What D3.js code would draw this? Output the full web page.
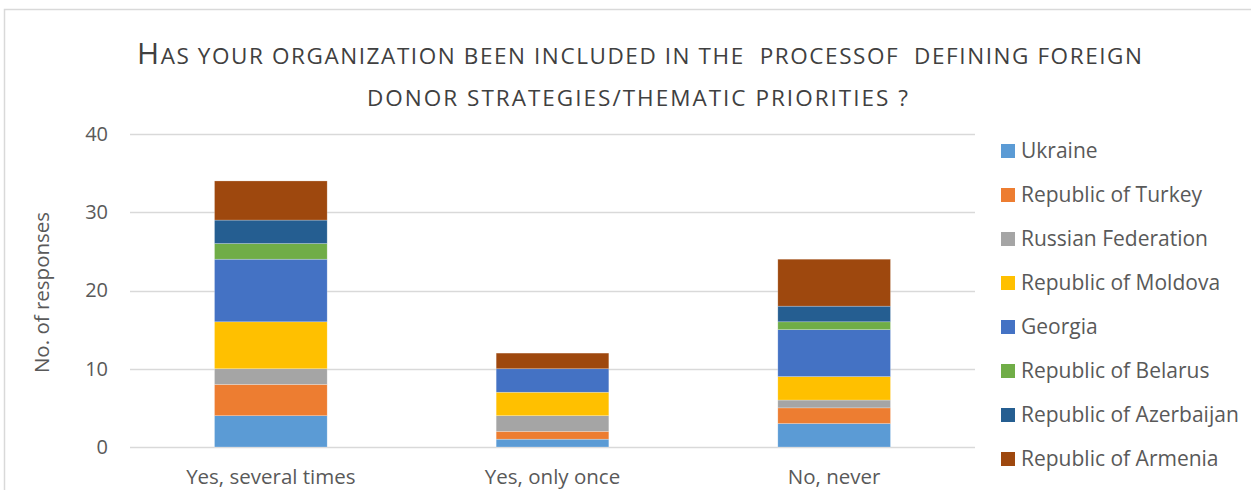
<!DOCTYPE html>
<html>
<head>
<meta charset="utf-8">
<script src="https://cdn.jsdelivr.net/npm/d3@7"></script>
<style>
  body { margin: 0; background: #fff; }
  svg { display: block; font-family: "Open Sans", sans-serif; }
</style>
</head>
<body>
<div id="chart"></div>
<script>
const categories = ['Yes, several times', 'Yes, only once', 'No, never'];
const countries = ['Ukraine', 'Republic of Turkey', 'Russian Federation', 'Republic of Moldova',
    'Georgia', 'Republic of Belarus', 'Republic of Azerbaijan', 'Republic of Armenia'];
const ukraine = [4, 1, 3];
const turkey = [4, 1, 2];
const russia = [2, 2, 1];
const moldova = [6, 3, 3];
const georgia = [8, 3, 6];
const belarus = [2, 0, 1];
const azerbaijan = [3, 0, 2];
const armenia = [5, 2, 6];
const yTicks = [0, 10, 20, 30, 40];
const colors = ['#5B9BD5', '#ED7D31', '#A5A5A5', '#FFC000', '#4472C4', '#70AD47', '#255E91', '#9E480E'];

const width = 1251;
const height = 490;
const plot = { left: 130, right: 975, top: 134, bottom: 447 };
const textColor = '#595959';

const series = [ukraine, turkey, russia, moldova, georgia, belarus, azerbaijan, armenia];
const rows = categories.map((c, i) => {
    const r = { cat: c };
    countries.forEach((k, j) => { r[k] = series[j][i]; });
    return r;
});
const stacked = d3.stack().keys(countries)(rows);

const svg = d3.select('#chart').append('svg')
    .attr('width', width)
    .attr('height', height);

// chart border
svg.append('rect')
    .attr('x', 4.5).attr('y', 9.5)
    .attr('width', width).attr('height', height)
    .attr('fill', 'none').attr('stroke', '#d9d9d9').attr('stroke-width', 1.5);

const x = d3.scaleBand().domain(categories).range([plot.left, plot.right]);
const y = d3.scaleLinear().domain([0, 40]).range([plot.bottom, plot.top]);
const barW = x.bandwidth() * 0.4;

// gridlines
svg.append('g')
    .selectAll('line')
    .data(yTicks)
    .join('line')
    .attr('x1', plot.left).attr('x2', plot.right)
    .attr('y1', d => Math.round(y(d)) + 0.5).attr('y2', d => Math.round(y(d)) + 0.5)
    .attr('stroke', '#d9d9d9').attr('stroke-width', 1.5);

// y axis labels
const yAxis = svg.append('g')
    .attr('transform', `translate(${plot.left - 22},0)`)
    .call(d3.axisLeft(y).tickValues(yTicks).tickSize(0).tickPadding(0));
yAxis.select('.domain').remove();
yAxis.selectAll('text')
    .attr('font-size', 20).attr('fill', textColor)
    .attr('font-family', '"Open Sans", sans-serif');

// bars
svg.append('g')
    .selectAll('g')
    .data(stacked)
    .join('g')
    .attr('fill', (d, i) => colors[i])
    .selectAll('rect')
    .data(d => d)
    .join('rect')
    .attr('x', d => x(d.data.cat) + (x.bandwidth() - barW) / 2)
    .attr('y', d => y(d[1]))
    .attr('width', barW)
    .attr('height', d => y(d[0]) - y(d[1]))
    .attr('stroke', '#fff').attr('stroke-opacity', 0.4).attr('stroke-width', 0.6);

// x labels
const xAxis = svg.append('g')
    .attr('transform', `translate(0,484)`)
    .call(d3.axisBottom(x).tickSize(0).tickPadding(0));
xAxis.select('.domain').remove();
xAxis.selectAll('text')
    .attr('y', 0).attr('dy', 0)
    .attr('font-size', 20.5).attr('fill', textColor)
    .attr('font-family', '"Open Sans", sans-serif');

// y title
svg.append('text')
    .attr('transform', `translate(49,${(plot.top + plot.bottom) / 2 + 2}) rotate(-90)`)
    .attr('text-anchor', 'middle')
    .attr('font-size', 20.5).attr('fill', textColor)
    .text('No. of responses');

// title, drawn as small caps: first letter large, the rest smaller capitals
const titleLines = [
    { big: 'H', rest: 'as your organization been included in the  processof  defining foreign', x: 137, y: 64, len: 1005 },
    { big: '', rest: 'donor strategies/thematic priorities ?', x: 367, y: 106, len: 541 },
];
titleLines.forEach(l => {
    const t = svg.append('text')
        .attr('x', l.x).attr('y', l.y)
        .attr('fill', '#404040')
        .attr('textLength', l.len).attr('lengthAdjust', 'spacing')
        .style('white-space', 'pre');
    if (l.big) t.append('tspan').attr('font-size', 30).text(l.big);
    t.append('tspan').attr('font-size', 22.5).text(l.rest.toUpperCase());
});

// legend
const legend = svg.append('g')
    .selectAll('g')
    .data(countries)
    .join('g')
    .attr('transform', (d, i) => `translate(1001,${151 + i * 44})`);
legend.append('rect')
    .attr('x', 0).attr('y', -7)
    .attr('width', 14).attr('height', 14)
    .attr('fill', (d, i) => colors[i]);
legend.append('text')
    .attr('x', 20).attr('dy', '0.35em')
    .attr('font-size', 21).attr('fill', textColor)
    .text(d => d);
</script>
</body>
</html>
